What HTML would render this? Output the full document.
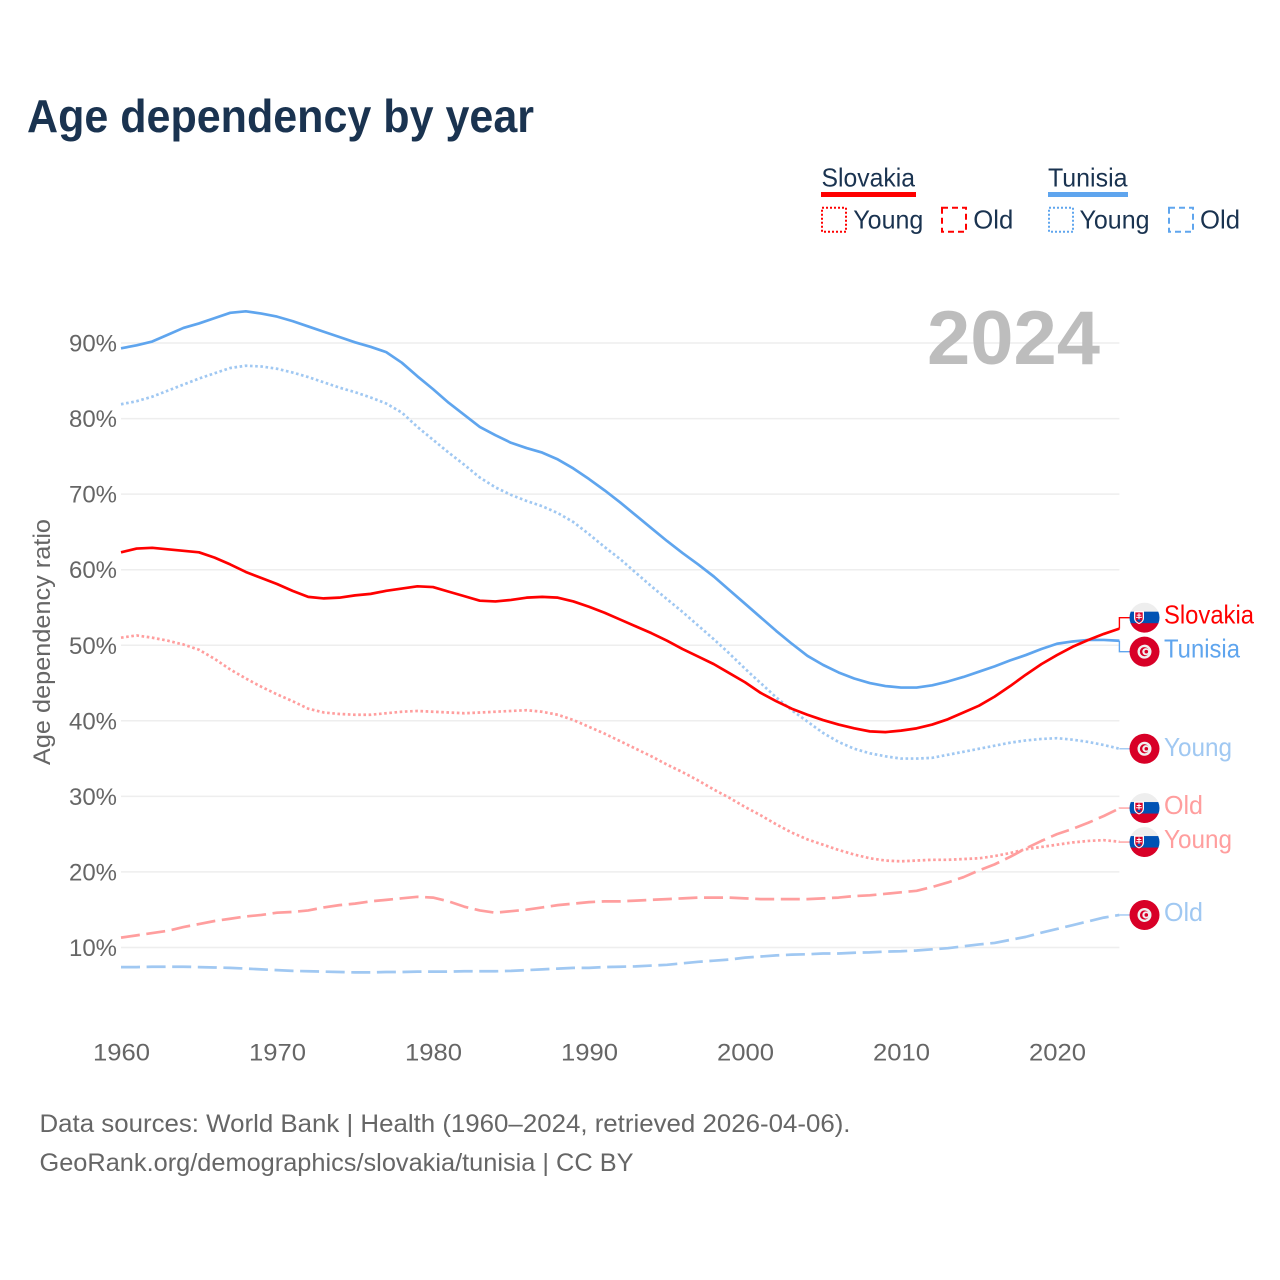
<!DOCTYPE html>
<html lang="en">
<head>
<meta charset="utf-8">
<title>Age dependency by year</title>
<style>
html,body{margin:0;padding:0;background:#fff}
svg{display:block}
text{font-family:"Liberation Sans",sans-serif}
</style>
</head>
<body>
<svg id="chart" xmlns="http://www.w3.org/2000/svg" width="1280" height="1280" viewBox="0 0 1280 1280">
<defs>
<clipPath id="flag-clip"><circle cx="0" cy="0" r="15"/></clipPath>
<g id="flag-slovakia">
<g clip-path="url(#flag-clip)">
<rect x="-15" y="-15" width="30" height="30" fill="#eeeeee"/>
<rect x="-15" y="-6" width="30" height="12" fill="#0052b4"/>
<rect x="-15" y="5.5" width="30" height="10" fill="#d80027"/>
</g>
<path d="M-10.5,-6.5 h10 v7 q0,4 -5,6 q-5,-2 -5,-6 z" fill="#ffffff"/>
<path d="M-9.2,-5.3 h7.4 v6 q0,3 -3.7,4.6 q-3.7,-1.6 -3.7,-4.6 z" fill="#d80027"/>
<path d="M-6,-4.5 h1 v1.5 h1.8 v1 h-1.8 v1.2 h2.4 v1 h-2.4 v2.5 h-1 v-2.5 h-2.4 v-1 h2.4 v-1.2 h-1.8 v-1 h1.8 z" fill="#ffffff"/>
<path d="M-8,2.6 q2.5,-2 5,0 l-2.5,2 z" fill="#0052b4"/>
</g>
<g id="flag-tunisia">
<circle cx="0" cy="0" r="15" fill="#d80027"/>
<circle cx="0" cy="0" r="7" fill="#f0f0f0"/>
<circle cx="0" cy="0" r="4.6" fill="#d80027"/>
<circle cx="1.4" cy="0" r="3.6" fill="#f0f0f0"/>
<circle cx="1.8" cy="0" r="1.8" fill="#d80027"/>
</g>
</defs>

<text x="27" y="132" font-size="46" font-weight="700" fill="#1a3350" textLength="507" lengthAdjust="spacingAndGlyphs">Age dependency by year</text>

<g id="grid"></g>
<g id="y-ticks"></g>
<g id="x-ticks"></g>

<text transform="translate(50,642) rotate(-90)" text-anchor="middle" font-size="24" fill="#666666" textLength="246" lengthAdjust="spacingAndGlyphs">Age dependency ratio</text>

<text x="927" y="364" font-size="76" font-weight="700" fill="#bdbdbd" textLength="173" lengthAdjust="spacingAndGlyphs">2024</text>

<g id="series"></g>
<g id="end-labels"></g>

<g>
<g>
<text x="821.5" y="186.5" font-size="26" fill="#1a3350" textLength="93.5" lengthAdjust="spacingAndGlyphs">Slovakia</text>
<rect x="821" y="192" width="95" height="5" fill="#ff0000"/>
<rect x="822" y="207.7" width="24" height="24" fill="none" stroke="#ff0000" stroke-width="2" stroke-dasharray="2 2"/>
<text x="853.3" y="228.3" font-size="26" fill="#1a3350" textLength="70" lengthAdjust="spacingAndGlyphs">Young</text>
<rect x="942" y="207.7" width="24" height="24" fill="none" stroke="#ff0000" stroke-width="2" stroke-dasharray="6 4"/>
<text x="973.3" y="228.3" font-size="26" fill="#1a3350" textLength="40" lengthAdjust="spacingAndGlyphs">Old</text>
</g>
<g>
<text x="1048" y="186.5" font-size="26" fill="#1a3350" textLength="79.5" lengthAdjust="spacingAndGlyphs">Tunisia</text>
<rect x="1048" y="192" width="80" height="5" fill="#5fa5ee"/>
<rect x="1049" y="207.7" width="24" height="24" fill="none" stroke="#5fa5ee" stroke-width="2" stroke-dasharray="2 2"/>
<text x="1079.5" y="228.3" font-size="26" fill="#1a3350" textLength="70" lengthAdjust="spacingAndGlyphs">Young</text>
<rect x="1169" y="207.7" width="24" height="24" fill="none" stroke="#5fa5ee" stroke-width="2" stroke-dasharray="6 4"/>
<text x="1200" y="228.3" font-size="26" fill="#1a3350" textLength="40" lengthAdjust="spacingAndGlyphs">Old</text>
</g>
</g>

<text x="39.5" y="1132" font-size="25" fill="#666666" textLength="811" lengthAdjust="spacingAndGlyphs">Data sources: World Bank | Health (1960–2024, retrieved 2026-04-06).</text>
<text x="39.5" y="1171" font-size="25" fill="#666666" textLength="594" lengthAdjust="spacingAndGlyphs">GeoRank.org/demographics/slovakia/tunisia | CC BY</text>
</svg>

<script>
const startYear = 1960;
const endYear = 2024;
const yTickValues = [10, 20, 30, 40, 50, 60, 70, 80, 90];
const xTickYears = [1960, 1970, 1980, 1990, 2000, 2010, 2020];

const slovakiaTotal = [62.3,62.8,62.9,62.7,62.5,62.3,61.6,60.7,59.7,58.9,58.1,57.2,56.4,56.2,56.3,56.6,56.8,57.2,57.5,57.8,57.7,57.1,56.5,55.9,55.8,56.0,56.3,56.4,56.3,55.8,55.1,54.3,53.4,52.5,51.6,50.6,49.5,48.5,47.5,46.3,45.1,43.7,42.6,41.6,40.8,40.1,39.5,39.0,38.6,38.5,38.7,39.0,39.5,40.2,41.1,42.0,43.2,44.6,46.1,47.5,48.7,49.8,50.7,51.5,52.2];
const slovakiaYoung = [51.0,51.3,51.0,50.6,50.1,49.4,48.2,46.8,45.6,44.5,43.5,42.6,41.6,41.1,40.9,40.8,40.8,41.0,41.2,41.3,41.2,41.1,41.0,41.1,41.2,41.3,41.4,41.2,40.8,40.1,39.2,38.3,37.3,36.3,35.3,34.2,33.2,32.1,30.9,29.8,28.6,27.5,26.3,25.2,24.3,23.6,22.9,22.3,21.8,21.5,21.4,21.5,21.6,21.6,21.7,21.8,22.1,22.5,23.0,23.3,23.6,23.9,24.1,24.2,24.0];
const slovakiaOld = [11.3,11.6,11.9,12.2,12.7,13.1,13.5,13.8,14.1,14.3,14.6,14.7,14.9,15.3,15.6,15.8,16.1,16.3,16.5,16.7,16.6,16.1,15.4,14.9,14.6,14.8,15.0,15.3,15.6,15.8,16.0,16.1,16.1,16.2,16.3,16.4,16.5,16.6,16.6,16.6,16.5,16.4,16.4,16.4,16.4,16.5,16.6,16.8,16.9,17.1,17.3,17.5,18.0,18.6,19.3,20.2,21.0,22.0,23.1,24.1,25.0,25.7,26.5,27.4,28.4];
const tunisiaTotal = [89.3,89.7,90.2,91.1,92.0,92.6,93.3,94.0,94.2,93.9,93.5,92.9,92.2,91.5,90.8,90.1,89.5,88.8,87.4,85.6,83.9,82.1,80.5,78.9,77.8,76.8,76.1,75.5,74.6,73.4,72.0,70.5,68.9,67.2,65.5,63.8,62.2,60.7,59.1,57.3,55.5,53.7,51.9,50.2,48.6,47.4,46.4,45.6,45.0,44.6,44.4,44.4,44.7,45.2,45.8,46.5,47.2,48.0,48.7,49.5,50.2,50.5,50.7,50.7,50.6];
const tunisiaYoung = [81.9,82.3,82.9,83.7,84.5,85.3,86.0,86.7,87.0,86.9,86.6,86.1,85.5,84.8,84.1,83.5,82.8,82.0,80.8,78.9,77.2,75.5,73.9,72.2,70.9,69.9,69.1,68.4,67.5,66.3,64.7,63.0,61.4,59.6,57.8,56.1,54.4,52.6,50.8,48.9,46.9,45.0,43.1,41.4,39.9,38.4,37.2,36.3,35.7,35.3,35.0,35.0,35.1,35.5,35.9,36.3,36.7,37.1,37.4,37.6,37.7,37.5,37.2,36.8,36.3];
const tunisiaOld = [7.4,7.4,7.45,7.45,7.45,7.4,7.35,7.3,7.2,7.1,7.0,6.9,6.85,6.8,6.75,6.7,6.7,6.75,6.75,6.8,6.8,6.8,6.85,6.85,6.85,6.9,7.0,7.1,7.2,7.3,7.3,7.4,7.45,7.5,7.6,7.7,7.9,8.1,8.25,8.4,8.65,8.8,8.95,9.05,9.1,9.2,9.2,9.3,9.35,9.45,9.5,9.6,9.75,9.9,10.15,10.4,10.6,11.0,11.4,11.95,12.45,12.95,13.45,13.95,14.3];

const SVGNS = 'http://www.w3.org/2000/svg';
function xScale(year) { return 121 + (year - startYear) * 15.6; }
function yScale(pct) { return 1023 - pct * 7.555; }
function make(tag, attrs, parent) {
  const el = document.createElementNS(SVGNS, tag);
  for (const k in attrs) el.setAttribute(k, attrs[k]);
  parent.appendChild(el);
  return el;
}

const gridGroup = document.getElementById('grid');
const yTickGroup = document.getElementById('y-ticks');
const xTickGroup = document.getElementById('x-ticks');
const seriesGroup = document.getElementById('series');
const labelGroup = document.getElementById('end-labels');

yTickValues.forEach(function (v) {
  const line = make('line', {x1: xScale(startYear), x2: xScale(endYear), y1: yScale(v), y2: yScale(v), stroke: '#eeeeee', 'stroke-width': 1.5}, gridGroup);
  
  
  const t = make('text', {x: 117, y: yScale(v) + 8.5, 'text-anchor': 'end', 'font-size': 24, fill: '#666666', textLength: 48, lengthAdjust: 'spacingAndGlyphs'}, yTickGroup);
  t.textContent = v + '%';
  
  
});

xTickYears.forEach(function (yr) {
  const t = make('text', {x: xScale(yr) + 0.5, y: 1060.5, 'text-anchor': 'middle', 'font-size': 24, fill: '#666666', textLength: 57, lengthAdjust: 'spacingAndGlyphs'}, xTickGroup);
  t.textContent = yr;
  
  
});

function drawLine(values, color, dash, name) {
  const d = values.map(function (v, i) {
    return (i ? 'L' : 'M') + xScale(startYear + i).toFixed(2) + ',' + yScale(v).toFixed(2);
  }).join('');
  const attrs = {d: d, fill: 'none', stroke: color, 'stroke-width': 2.7, 'stroke-linejoin': 'round'};
  if (dash) attrs['stroke-dasharray'] = dash;
  const p = make('path', attrs, seriesGroup);
  
  
}

const RED = '#ff0000', BLUE = '#5fa5ee', LRED = '#ff9e9e', LBLUE = '#a0c8f2';
const DOT = '2.6 2.6', DASH = '19 6.6';
drawLine(tunisiaOld, LBLUE, DASH, 'line-tunisia-old');
drawLine(slovakiaOld, LRED, DASH, 'line-slovakia-old');
drawLine(slovakiaYoung, LRED, DOT, 'line-slovakia-young');
drawLine(tunisiaYoung, LBLUE, DOT, 'line-tunisia-young');
drawLine(tunisiaTotal, BLUE, null, 'line-tunisia-total');
drawLine(slovakiaTotal, RED, null, 'line-slovakia-total');

const endEntries = [
  {name: 'slovakia-total', text: 'Slovakia', width: 90, values: slovakiaTotal, color: RED, flag: 'flag-slovakia', dy: 6},
  {name: 'tunisia-total', text: 'Tunisia', width: 76, values: tunisiaTotal, color: BLUE, flag: 'flag-tunisia', dy: 6},
  {name: 'tunisia-young', text: 'Young', width: 68, values: tunisiaYoung, color: LBLUE, flag: 'flag-tunisia', dy: 7},
  {name: 'slovakia-old', text: 'Old', width: 39, values: slovakiaOld, color: LRED, flag: 'flag-slovakia', dy: 6},
  {name: 'slovakia-young', text: 'Young', width: 68, values: slovakiaYoung, color: LRED, flag: 'flag-slovakia', dy: 6},
  {name: 'tunisia-old', text: 'Old', width: 39, values: tunisiaOld, color: LBLUE, flag: 'flag-tunisia', dy: 6}
];
endEntries.forEach(function (e) {
  e.lineY = yScale(e.values[e.values.length - 1]);
  e.labelY = e.lineY;
});
const sorted = endEntries.slice().sort(function (a, b) { return a.lineY - b.lineY; });
for (let pass = 0; pass < 6; pass++) {
  for (let i = 1; i < sorted.length; i++) {
    const gap = sorted[i].labelY - sorted[i - 1].labelY;
    if (gap < 34) {
      const push = (34 - gap) / 2;
      sorted[i - 1].labelY -= push;
      sorted[i].labelY += push;
    }
  }
}
endEntries.forEach(function (e) {
  const endX = xScale(endYear);
  const leader = make('path', {d: 'M' + endX + ',' + e.lineY + 'V' + e.labelY + 'H1132', fill: 'none', stroke: e.color, 'stroke-width': 1.4}, labelGroup);
  
  
  const flag = make('use', {href: '#' + e.flag, transform: 'translate(1144.5,' + e.labelY + ')'}, labelGroup);
  
  
  const t = make('text', {x: 1164, y: e.labelY + e.dy, 'font-size': 26, fill: e.color, textLength: e.width, lengthAdjust: 'spacingAndGlyphs'}, labelGroup);
  t.textContent = e.text;
  
  
});
</script>
</body>
</html>
